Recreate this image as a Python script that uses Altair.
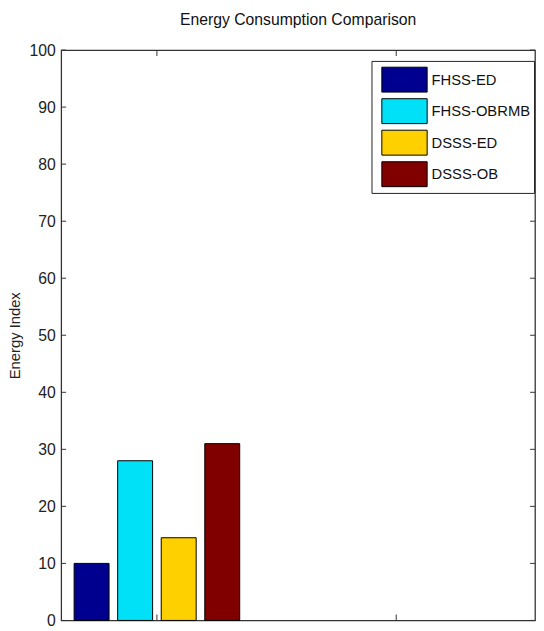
import altair as alt
import pandas as pd

# ---- data ----
series = ["FHSS-ED", "FHSS-OBRMB", "DSSS-ED", "DSSS-OB"]
values = [10, 28, 14.5, 31]
group = [1, 1, 1, 1]
series_index = [0, 1, 2, 3]
colors = ["#00008F", "#00E1F7", "#FFD000", "#800000"]
y_ticks = [0, 10, 20, 30, 40, 50, 60, 70, 80, 90, 100]
x_ticks = [1, 2]

# ---- layout / style ----
W, H = 481, 579
BAR_STEP = 0.182
BAR_WIDTH = 0.146
FONT = "Liberation Sans, Arial, sans-serif"
AXC = "#333333"

df = pd.DataFrame({"series": series, "value": values, "group": group, "idx": series_index})
yt = pd.DataFrame({"v": y_ticks})
xt = pd.DataFrame({"v": x_ticks})

xs = alt.Scale(domain=[0.6, 2.58], nice=False, zero=False)
ys = alt.Scale(domain=[0, 100], nice=False)

y_axis = alt.Axis(
    title="Energy Index", values=y_ticks, ticks=False, domain=False, grid=False,
    labelPadding=6, labelFont=FONT, labelFontSize=16, labelColor="#222222",
    titleFont=FONT, titleFontSize=15, titleFontWeight="normal",
    titleColor="#222222", titleX=-47, titleY=H / 2, titleBaseline="middle", titleAngle=270,
)

bars = alt.Chart(df).transform_calculate(
    xc=f"datum.group + (datum.idx - 1.5) * {BAR_STEP}"
).transform_calculate(
    x0=f"datum.xc - {BAR_WIDTH / 2}", x1=f"datum.xc + {BAR_WIDTH / 2}"
).mark_bar(stroke="black", strokeWidth=1).encode(
    x=alt.X("x0:Q", scale=xs, axis=None),
    x2="x1:Q",
    y=alt.Y("value:Q", scale=ys, axis=y_axis),
    y2=alt.datum(0),
    fill=alt.Fill(
        "series:N",
        scale=alt.Scale(domain=series, range=colors),
        legend=alt.Legend(
            title=None, orient="none", legendX=315, legendY=11, direction="vertical",
            symbolType="M-1,-0.55H1V0.55H-1Z", symbolSize=2116,
            symbolStrokeColor="black", symbolStrokeWidth=1, symbolOpacity=1,
            clipHeight=32, rowPadding=0, padding=3, symbolOffset=7, labelOffset=4,
            strokeColor="#222222", fillColor="white",
            labelFont=FONT, labelFontSize=15, labelColor="#111111", labelLimit=0,
        ),
    ),
)

left_ticks = alt.Chart(yt).mark_rule(color=AXC).encode(
    y=alt.Y("v:Q", scale=ys, axis=y_axis), x=alt.value(0), x2=alt.value(5)
)
right_ticks = alt.Chart(yt).mark_rule(color=AXC).encode(
    y=alt.Y("v:Q", scale=ys, axis=y_axis), x=alt.value(W - 5), x2=alt.value(W)
)
bottom_ticks = alt.Chart(xt).mark_rule(color=AXC).encode(
    x=alt.X("v:Q", scale=xs, axis=None), y=alt.value(H - 6), y2=alt.value(H)
)
top_ticks = alt.Chart(xt).mark_rule(color=AXC).encode(
    x=alt.X("v:Q", scale=xs, axis=None), y=alt.value(0), y2=alt.value(6)
)

chart = alt.layer(bars, left_ticks, right_ticks, bottom_ticks, top_ticks).properties(
    width=W, height=H,
    autosize=alt.AutoSizeParams(type="none"),
    padding={"left": 54, "top": 38, "right": 1, "bottom": 6},
    title=alt.Title(
        "Energy Consumption Comparison", font=FONT, fontSize=16, fontWeight="normal",
        color="#111111", baseline="alphabetic", offset=1, anchor="middle", frame="group",
    ),
).configure_view(stroke=AXC, strokeWidth=1.3).configure_axis(grid=False)

chart.save("out.html", embed_options={"renderer": "svg", "actions": False})
